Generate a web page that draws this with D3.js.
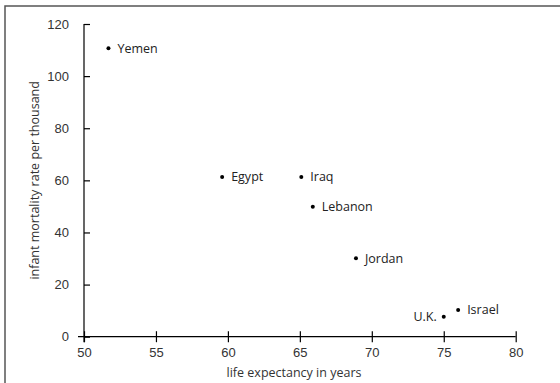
<!DOCTYPE html>
<html>
<head>
<meta charset="utf-8">
<script src="https://cdn.jsdelivr.net/npm/d3@7"></script>
<style>
  body { margin: 0; background: #fff; }
  svg { display: block; font-family: "Open Sans", "Noto Sans", sans-serif; }
  .axis path, .axis line { stroke: #000; stroke-width: 1.2; }
  .axis text { font-size: 13px; fill: #333; }
  .label { font-size: 12.5px; fill: #222; }
  .title { font-size: 12.5px; fill: #333; }
</style>
</head>
<body>
<script>
// Data
var countries = ["Yemen", "Egypt", "Iraq", "Lebanon", "Jordan", "U.K.", "Israel"];
var lifeExpectancy = [51.7, 59.6, 65.1, 65.9, 68.9, 75.0, 76.0];
var infantMortality = [110.7, 61.3, 61.3, 49.9, 30.1, 7.7, 10.2];
var labelSide = ["right", "right", "right", "right", "right", "left", "right"];
var xTicks = [50, 55, 60, 65, 70, 75, 80];
var yTicks = [0, 20, 40, 60, 80, 100, 120];

var width = 560;
var height = 383;

var svg = d3.select("body").append("svg")
    .attr("width", width)
    .attr("height", height);

// outer frame (runs off the right and bottom edges like the original)
svg.append("rect")
    .attr("x", 5)
    .attr("y", 6)
    .attr("width", 600)
    .attr("height", 400)
    .attr("fill", "none")
    .attr("stroke", "#555")
    .attr("stroke-width", 1.5);

var x = d3.scaleLinear().domain([50, 80]).range([84, 515.7]);
var y = d3.scaleLinear().domain([0, 120]).range([336.7, 24]);

// x axis with ticks crossing the line
var xAxis = svg.append("g")
    .attr("class", "axis")
    .attr("transform", "translate(0," + y(0) + ")")
    .call(d3.axisBottom(x).tickValues(xTicks).tickSize(5.5).tickSizeOuter(0).tickPadding(6));
xAxis.select(".domain").remove();
xAxis.selectAll(".tick line").attr("y1", -5.5);
xAxis.append("line")
    .attr("x1", x(50) - 6).attr("x2", x(80))
    .attr("stroke", "#000").attr("stroke-width", 1.2);

var yAxis = svg.append("g")
    .attr("class", "axis")
    .attr("transform", "translate(" + x(50) + ",0)")
    .call(d3.axisLeft(y).tickValues(yTicks).tickSize(6).tickSizeOuter(0).tickPadding(6));
yAxis.select(".domain").remove();
yAxis.selectAll(".tick line").attr("x2", 6);
yAxis.selectAll(".tick text").attr("x", -15);
yAxis.append("line")
    .attr("y1", y(120)).attr("y2", y(0) + 5.5)
    .attr("stroke", "#000").attr("stroke-width", 1.2);

// points
var pts = countries.map(function (c, i) {
    return { name: c, x: lifeExpectancy[i], y: infantMortality[i], side: labelSide[i] };
});

svg.selectAll(".dot")
    .data(pts)
    .enter().append("circle")
    .attr("class", "dot")
    .attr("cx", function (d) { return x(d.x); })
    .attr("cy", function (d) { return y(d.y); })
    .attr("r", 2)
    .attr("fill", "#000");

svg.selectAll(".label")
    .data(pts)
    .enter().append("text")
    .attr("class", "label")
    .attr("x", function (d) { return d.side === "left" ? x(d.x) - 7 : x(d.x) + 9; })
    .attr("y", function (d) { return y(d.y); })
    .attr("dy", "0.35em")
    .attr("text-anchor", function (d) { return d.side === "left" ? "end" : "start"; })
    .text(function (d) { return d.name; });

// axis titles
svg.append("text")
    .attr("class", "title")
    .attr("x", 294)
    .attr("y", 377)
    .attr("text-anchor", "middle")
    .text("life expectancy in years");

svg.append("text")
    .attr("class", "title")
    .attr("transform", "translate(39," + (y(60)) + ") rotate(-90)")
    .attr("text-anchor", "middle")
    .text("infant mortality rate per thousand");
</script>
</body>
</html>
